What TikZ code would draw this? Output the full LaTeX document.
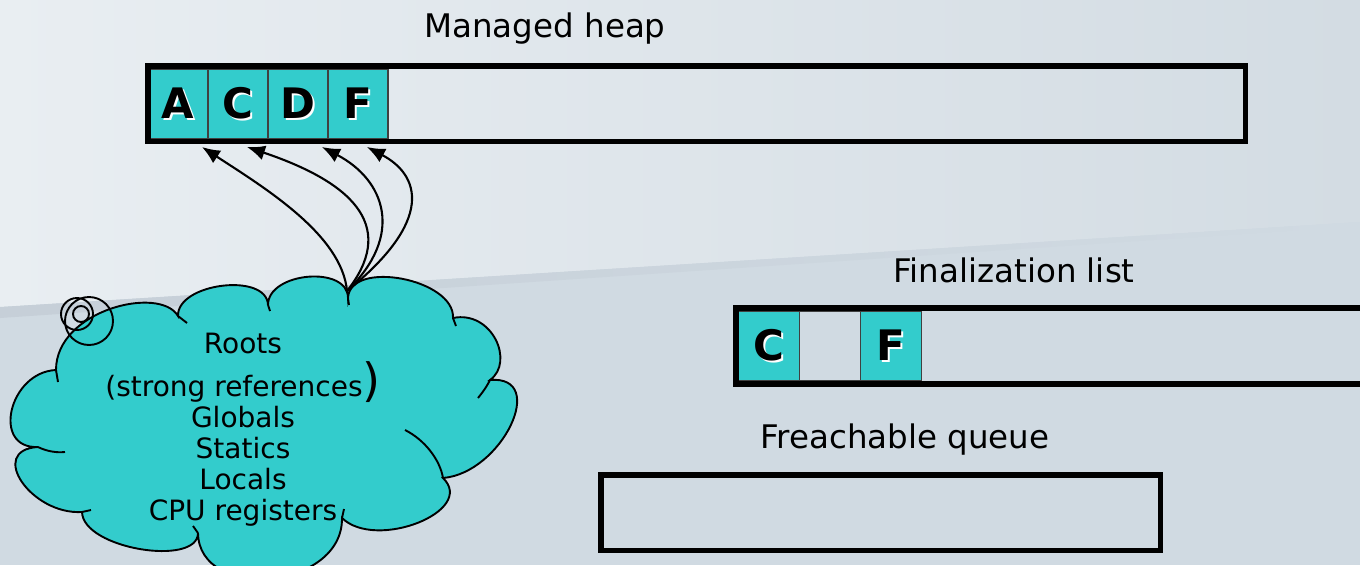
\documentclass[tikz,border=0pt]{standalone}
\usepackage{fontspec}
\setmainfont{DejaVu Sans}
\usetikzlibrary{positioning,arrows.meta,calc}
\definecolor{cellteal}{HTML}{33CCCC}
\definecolor{bglight}{HTML}{E9EEF2}
\definecolor{bgmid}{HTML}{D3DCE3}
\definecolor{bglow}{HTML}{D0DAE2}
\definecolor{bgband}{HTML}{C6CFD8}
\newcommand\embossed[1]{\rlap{\kern1.8pt\raisebox{-1.8pt}{\color{white}#1}}#1}

\begin{document}
\begin{tikzpicture}[x=1pt,y=-1pt,
    title/.style={font=\fontsize{32.5}{38}\selectfont, anchor=base, inner sep=0pt},
    container/.style={draw=black, line width=5.5pt, outer sep=0pt, inner sep=0pt},
    cell/.style={draw=black!75, line width=1.3pt, fill=cellteal, minimum width=60pt,
      minimum height=70pt, inner sep=0pt, outer sep=0pt, font=\fontsize{42}{42}\selectfont\bfseries},
    emptycell/.style={cell, fill=none},
    ref/.style={line width=2.1pt, -{Latex[length=18pt,width=15pt]}},
    cloudline/.style={line width=1.9pt}
  ]
    \clip (0,0) rectangle (1360,565);
    \useasboundingbox (0,0) rectangle (1360,565);
    \fill[bglow] (0,0) rectangle (1360,565);
    \shade[left color=bglight, right color=bgmid] (0,0) -- (1360,0) -- (1360,222) -- (0,307) -- cycle;
    \shade[left color=bgband, right color=bglow] (0,307) -- (1360,222) -- (1360,226) -- (0,318) -- cycle;

    \node[title] (heaptitle) at (545,37) {Managed heap};
    \node[cell] (cellA) at (178,104) {\embossed{A}};
    \node[cell, right=0pt of cellA] (cellC) {\embossed{C}};
    \node[cell, right=0pt of cellC] (cellD) {\embossed{D}};
    \node[cell, right=0pt of cellD] (cellF) {\embossed{F}};
    \node[container, minimum width=1097.5pt, minimum height=75.5pt] (heap) at (696.5,103.5) {};

    \node[title] (fintitle) at (1014,282) {Finalization list};
    \node[cell, minimum width=61pt] (finC) at (769,346) {\embossed{C}};
    \node[emptycell, minimum width=61pt, right=0pt of finC] (fingap) {};
    \node[cell, minimum width=61pt, right=0pt of fingap] (finF) {\embossed{F}};
    \node[container, minimum width=650pt, minimum height=76pt, anchor=west] (finlist) at (736,346) {};

    \node[title] (freachtitle) at (905,448) {Freachable queue};
    \node[container, minimum width=559.5pt, minimum height=75.5pt] (freachq) at (880.5,512.5) {};

    \filldraw[cloudline, fill=cellteal] (56,370) .. controls (56,310) and (160,285) .. (178,316)
      .. controls (177,283) and (267,272) .. (268,305)
      .. controls (268,272) and (348,265) .. (348,298)
      .. controls (350,259) and (455,279) .. (453,318)
      .. controls (492,310) and (515,362) .. (490,380)
      .. controls (549,375) and (502,473) .. (443,478)
      .. controls (477,511) and (376,551) .. (342,518)
      .. controls (343,590) and (199,602) .. (198,533)
      .. controls (198,567) and (83,549) .. (82,512)
      .. controls (31,515) and (-13,450) .. (38,447)
      .. controls (-9,449) and (9,372) .. (56,370) -- cycle;
    \draw[cloudline] (178,316) -- (187,323) (268,305) -- (270,311) (348,298) -- (349,305)
      (453,318) -- (456,326) (490,380) .. controls (486,388) and (482,393) .. (478,398)
      (405,430) .. controls (425,440) and (440,460) .. (443,478) (342,518) -- (344,509)
      (198,533) -- (193,526) (82,512) -- (91,510)
      (38,447) .. controls (46,451) and (56,453) .. (65,452) (56,370) -- (58,382);
    \draw[cloudline] (81,314) circle[radius=8] (77,314) circle[radius=16] (89,321) circle[radius=24];

    \node[anchor=north, inner sep=0pt, align=center, font=\fontsize{28}{31}\selectfont] (roots) at (243,333)
      {Roots\\[12pt](strong references\smash{\fontsize{46}{46}\selectfont)}\\Globals\\Statics\\Locals\\CPU registers};

    \coordinate (rootstip) at (347,291);
    \draw[ref] (rootstip) .. controls (342,235) and (265,188) .. ([shift={(24,8)}]cellA.south);
    \draw[ref] (rootstip) .. controls (395,230) and (360,185) .. ([shift={(9,8)}]cellC.south);
    \draw[ref] (rootstip) .. controls (405,235) and (385,180) .. ([shift={(24,8)}]cellD.south);
    \draw[ref] (rootstip) .. controls (435,220) and (420,175) .. ([shift={(9,8)}]cellF.south);
  \end{tikzpicture}
\end{document}
